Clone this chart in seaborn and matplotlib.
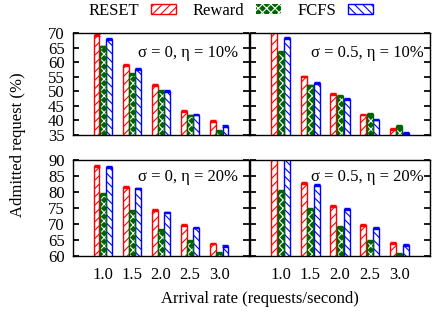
import matplotlib.pyplot as plt
from matplotlib.patches import Patch, Rectangle
import pandas as pd
import seaborn as sns

# ---- data ----
rates = ['1.0', '1.5', '2.0', '2.5', '3.0']
schemes = ['RESET', 'Reward', 'FCFS']

# sigma = 0, eta = 10%
reset_s0_e10 = [69.3, 59.1, 52.1, 43.2, 39.9]
reward_s0_e10 = [65.4, 55.9, 50.0, 41.7, 36.4]
fcfs_s0_e10 = [68.0, 57.6, 50.2, 42.0, 38.2]

# sigma = 0.5, eta = 10%
reset_s05_e10 = [71.0, 55.1, 49.0, 42.0, 37.1]
reward_s05_e10 = [63.6, 52.0, 48.5, 42.3, 38.2]
fcfs_s05_e10 = [68.2, 52.8, 47.3, 40.3, 35.8]

# sigma = 0, eta = 20%
reset_s0_e20 = [88.1, 81.5, 74.3, 69.6, 63.9]
reward_s0_e20 = [79.5, 74.1, 68.2, 64.6, 60.8]
fcfs_s0_e20 = [87.9, 81.1, 73.6, 68.9, 63.1]

# sigma = 0.5, eta = 20%
reset_s05_e20 = [91.0, 82.7, 75.7, 69.7, 64.1]
reward_s05_e20 = [80.3, 74.8, 69.1, 64.6, 60.5]
fcfs_s05_e20 = [91.0, 82.2, 74.6, 68.8, 63.4]

colors = {'RESET': '#ff0000', 'Reward': '#006400', 'FCFS': '#0000ff'}
hatches = {'RESET': '////', 'Reward': 'xxxx', 'FCFS': '\\\\\\\\'}


def long_table(reset, reward, fcfs):
    rows = []
    for name, vals in zip(schemes, [reset, reward, fcfs]):
        for r, v in zip(rates, vals):
            rows.append({'rate': r, 'scheme': name, 'value': v})
    return pd.DataFrame(rows)


sns.set_theme(style='ticks')
plt.rcParams['font.family'] = ['Liberation Serif', 'DejaVu Serif']
plt.rcParams['font.size'] = 12
plt.rcParams['text.color'] = 'black'
plt.rcParams['hatch.linewidth'] = 0.8

fig = plt.figure(figsize=(4.39, 3.16), dpi=100)

W, H = 439, 316
boxes = {
    'tl': (73, 33, 249, 135),
    'tr': (250, 33, 430, 135),
    'bl': (73, 160, 249, 256),
    'br': (250, 160, 430, 256),
}

panels = [
    ('tl', long_table(reset_s0_e10, reward_s0_e10, fcfs_s0_e10), (35, 70), range(35, 71, 5), 'σ = 0, η = 10%', 0.94, 0.80),
    ('tr', long_table(reset_s05_e10, reward_s05_e10, fcfs_s05_e10), (35, 70), range(35, 71, 5), 'σ = 0.5, η = 10%', 0.965, 0.80),
    ('bl', long_table(reset_s0_e20, reward_s0_e20, fcfs_s0_e20), (60, 90), range(60, 91, 5), 'σ = 0, η = 20%', 0.94, 0.82),
    ('br', long_table(reset_s05_e20, reward_s05_e20, fcfs_s05_e20), (60, 90), range(60, 91, 5), 'σ = 0.5, η = 20%', 0.965, 0.82),
]

for key, df, ylim, yticks, label, tx, ty in panels:
    x0, y0, x1, y1 = boxes[key]
    ax = fig.add_axes([x0 / W, 1 - y1 / H, (x1 - x0) / W, (y1 - y0) / H])
    sns.barplot(data=df, x='rate', y='value', hue='scheme', hue_order=schemes,
                order=rates, width=0.66, gap=0.08, errorbar=None,
                legend=False, ax=ax)

    for name, cont in zip(schemes, ax.containers):
        c = colors[name]
        xs, hs = [], []
        for p in cont.patches:
            if name == 'Reward':
                p.set_facecolor(c)
                p.set_edgecolor('white')
                p.set_linewidth(0)
                p.set_hatch(hatches[name])
                ax.add_patch(Rectangle(p.get_xy(), p.get_width(), p.get_height(),
                                       fill=False, edgecolor=c, linewidth=1.0))
            else:
                p.set_facecolor('white')
                p.set_edgecolor(c)
                p.set_linewidth(1.0)
                p.set_hatch(hatches[name])
            xs.append(p.get_x() + p.get_width() / 2)
            hs.append(p.get_height())
        ax.errorbar(xs, hs, yerr=0.3, fmt='none', ecolor=c, elinewidth=1,
                    capsize=2, capthick=1)

    ax.set_xlim(-1.03, 4 + 1.03)
    ax.set_ylim(*ylim)
    ax.set_xlabel('')
    ax.set_ylabel('')
    ax.set_yticks(list(yticks))
    for s in ax.spines.values():
        s.set_visible(True)
        s.set_linewidth(1.0)
        s.set_color('black')
    ax.tick_params(axis='y', direction='in', length=4, right=True, pad=6,
                   labelsize=12, colors='black')
    ax.tick_params(axis='x', length=0, pad=8, labelsize=12, labelcolor='black')
    if key in ('tr', 'br'):
        ax.tick_params(axis='y', labelleft=False)
    if key in ('tl', 'tr'):
        ax.tick_params(axis='x', labelbottom=False)
    ax.text(tx, ty, label, transform=ax.transAxes, ha='right', va='center',
            fontsize=12, color='black')

handles = []
for name in schemes:
    if name == 'Reward':
        handles.append(Patch(facecolor=colors[name], edgecolor='white',
                             hatch='xxxx', linewidth=0))
    else:
        handles.append(Patch(facecolor='white', edgecolor=colors[name],
                             hatch=hatches[name], linewidth=1))
fig.legend(handles, schemes, loc='center', bbox_to_anchor=(0.525, 0.966),
           ncol=3, frameon=False, markerfirst=False, handlelength=1.45,
           handleheight=0.5, columnspacing=1.0, handletextpad=0.75,
           fontsize=12)

fig.text(18 / W, 1 - 144.5 / H, 'Admitted request (%)', rotation=90,
         ha='center', va='center', fontsize=12, color='black')
fig.text(260 / W, 1 - 299 / H, 'Arrival rate (requests/second)',
         ha='center', va='center', fontsize=12, color='black')

fig.savefig('out.png', dpi=100)
